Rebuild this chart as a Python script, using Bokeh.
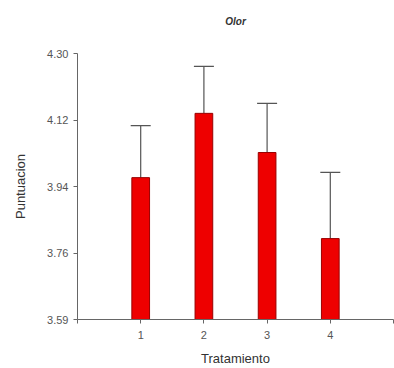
from bokeh.plotting import figure
from bokeh.models import ColumnDataSource, Whisker, FixedTicker, Range1d, Title
from bokeh.embed import file_html
from bokeh.resources import INLINE

titulo = "Olor"
tratamientos = [1, 2, 3, 4]
medias = [3.964, 4.138, 4.032, 3.799]
errores = [0.141, 0.127, 0.133, 0.179]
y_ticks = [3.58, 3.76, 3.94, 4.12, 4.30]
y_tick_labels = ["3.59", "3.76", "3.94", "4.12", "4.30"]
x_ticks = [0, 1, 2, 3, 4, 5]
x_tick_labels = ["", "1", "2", "3", "4", ""]

upper = [m + e for m, e in zip(medias, errores)]
src = ColumnDataSource(dict(x=tratamientos, top=medias, upper=upper, lower=medias))

p = figure(width=394, height=368, output_backend="svg", toolbar_location=None,
           x_range=Range1d(0, 5), y_range=Range1d(3.58, 4.30),
           min_border_left=77, min_border_right=1, min_border_top=53, min_border_bottom=49)
p.outline_line_color = None
p.xgrid.visible = False
p.ygrid.visible = False

# spacer between title and frame
p.add_layout(Title(text=" ", text_font_size="10px", standoff=3), "above")
p.add_layout(Title(text=titulo, align="center", text_font="Liberation Sans",
                   text_font_size="10px", text_font_style="bold italic",
                   text_color="#333333", standoff=22), "above")

whisk = Whisker(source=src, base="x", upper="upper", lower="lower",
                line_color="#555555", line_width=1.2, level="underlay")
whisk.upper_head.size = 20
whisk.upper_head.line_color = "#555555"
whisk.upper_head.line_width = 1.2
whisk.lower_head.size = 0
whisk.lower_head.line_alpha = 0
p.add_layout(whisk)

p.vbar(x="x", top="top", bottom=3.58, width=0.28, source=src,
       fill_color="#ee0000", line_color="#990000", line_width=1)

for ax in (p.xaxis[0], p.yaxis[0]):
    ax.axis_line_color = "#666666"
    ax.major_tick_line_color = "#666666"
    ax.minor_tick_line_color = None
    ax.major_tick_in = 0
    ax.major_tick_out = 4
    ax.major_label_text_font = "Liberation Sans"
    ax.major_label_text_font_size = "11px"
    ax.major_label_text_color = "#555555"
    ax.axis_label_text_font = "Liberation Sans"
    ax.axis_label_text_font_size = "13px"
    ax.axis_label_text_font_style = "normal"
    ax.axis_label_text_color = "#333333"

p.yaxis[0].ticker = FixedTicker(ticks=y_ticks)
p.yaxis[0].major_label_overrides = dict(zip(y_ticks, y_tick_labels))
p.yaxis[0].axis_label = "Puntuacion"
p.yaxis[0].axis_label_standoff = 16

p.xaxis[0].ticker = FixedTicker(ticks=x_ticks)
p.xaxis[0].major_label_overrides = dict(zip(x_ticks, x_tick_labels))
p.xaxis[0].major_label_standoff = 7
p.xaxis[0].axis_label = "Tratamiento"
p.xaxis[0].axis_label_standoff = 9

open("out.html", "w").write(file_html(p, INLINE))
